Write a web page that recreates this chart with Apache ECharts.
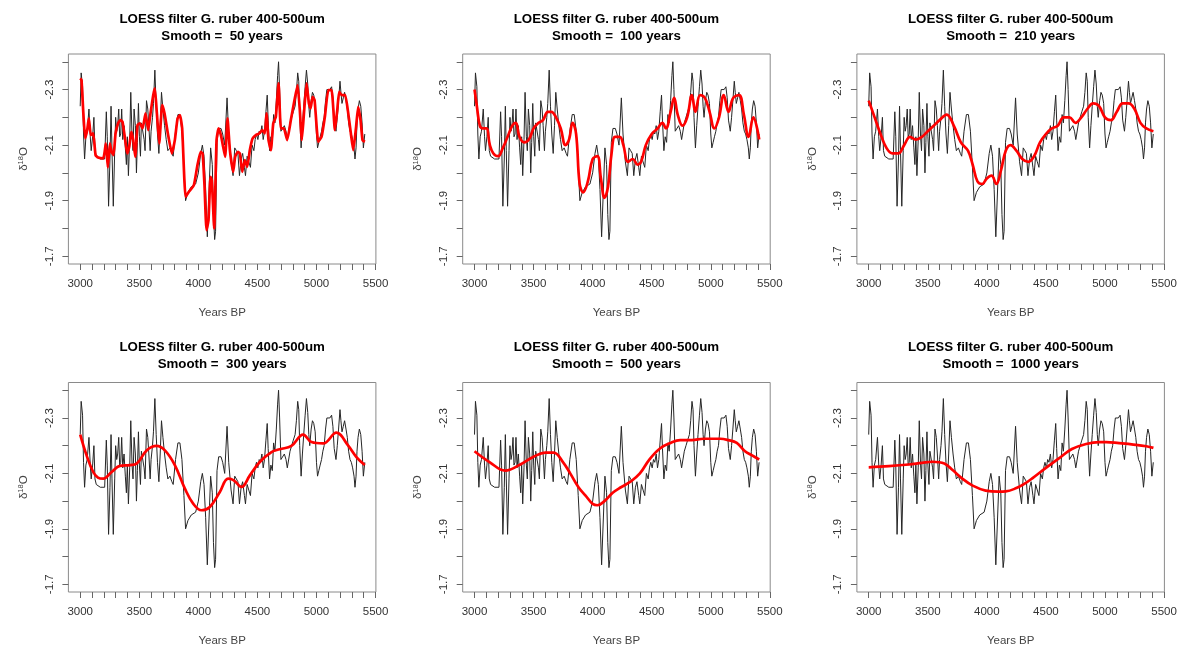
<!DOCTYPE html>
<html>
<head>
<meta charset="utf-8">
<script src="https://cdn.jsdelivr.net/npm/echarts/dist/echarts.min.js"></script>
<style>
html,body{margin:0;padding:0;background:#fff;}
#chart{width:1180px;height:648px;}
</style>
</head>
<body>
<div id="chart"></div>
<script>
// ---- data ----
const titleLine1 = 'LOESS filter G. ruber 400-500um';
const smoothLabels = ['Smooth =  50 years','Smooth =  100 years','Smooth =  210 years','Smooth =  300 years','Smooth =  500 years','Smooth =  1000 years'];
const xTickValues = [3000,3100,3200,3300,3400,3500,3600,3700,3800,3900,4000,4100,4200,4300,4400,4500,4600,4700,4800,4900,5000,5100,5200,5300,5400,5500];
const xLabelValues = [3000,3500,4000,4500,5000,5500];
const yTickValues = [-2.4,-2.3,-2.2,-2.1,-2.0,-1.9,-1.8,-1.7];
const yLabelValues = [-2.3,-2.1,-1.9,-1.7];

// raw G. ruber d18O record: [years BP, d18O]
const rawRecord = [
[3000,-2.24],[3008,-2.36],[3020,-2.31],[3028,-2.14],[3037,-2.05],[3048,-2.13],[3059,-2.15],[3074,-2.23],[3085,-2.13],[3093,-2.08],
[3105,-2.13],[3116,-2.20],[3125,-2.08],[3136,-2.06],[3170,-2.05],[3207,-2.05],[3221,-2.22],[3229,-2.13],[3240,-1.88],[3252,-2.05],
[3261,-2.24],[3269,-2.08],[3280,-1.88],[3292,-2.08],[3300,-2.20],[3309,-2.15],[3317,-2.17],[3326,-2.23],[3334,-2.13],[3343,-2.14],
[3351,-2.23],[3360,-2.12],[3371,-2.17],[3382,-2.09],[3391,-2.03],[3399,-2.13],[3408,-1.99],[3419,-2.12],[3428,-2.29],[3439,-2.13],
[3447,-2.08],[3456,-2.23],[3467,-2.17],[3476,-2.00],[3484,-2.11],[3493,-2.25],[3501,-2.13],[3510,-2.06],[3518,-2.18],[3530,-2.18],
[3541,-2.12],[3549,-2.08],[3561,-2.26],[3572,-2.23],[3581,-2.17],[3592,-2.08],[3600,-2.15],[3612,-2.20],[3620,-2.25],[3632,-2.37],
[3643,-2.24],[3654,-2.14],[3666,-2.07],[3677,-2.17],[3688,-2.29],[3700,-2.23],[3714,-2.17],[3728,-2.12],[3742,-2.08],[3759,-2.09],
[3776,-2.07],[3787,-2.06],[3807,-2.15],[3827,-2.21],[3844,-2.21],[3861,-2.15],[3878,-2.02],[3892,-1.90],[3912,-1.93],[3940,-1.95],
[3977,-1.96],[4000,-2.00],[4020,-2.07],[4034,-2.10],[4048,-2.06],[4062,-1.94],[4076,-1.77],[4090,-1.765],[4104,-2.09],[4118,-2.03],
[4128,-1.85],[4138,-1.76],[4146,-1.79],[4158,-2.11],[4172,-2.16],[4192,-2.16],[4206,-2.14],[4223,-2.10],[4243,-2.27],[4257,-2.14],
[4277,-2.04],[4294,-1.99],[4308,-2.09],[4322,-2.08],[4335,-2.07],[4348,-1.99],[4362,-2.05],[4375,-2.07],[4390,-2.02],[4399,-1.99],
[4413,-2.06],[4427,-2.04],[4441,-2.02],[4455,-2.10],[4470,-2.08],[4481,-2.12],[4492,-2.14],[4504,-2.12],[4515,-2.15],[4526,-2.14],
[4538,-2.17],[4549,-2.12],[4560,-2.15],[4572,-2.22],[4583,-2.28],[4591,-2.19],[4603,-2.08],[4614,-2.13],[4626,-2.11],[4637,-2.21],
[4648,-2.18],[4660,-2.26],[4671,-2.35],[4679,-2.40],[4688,-2.30],[4699,-2.15],[4714,-2.15],[4728,-2.17],[4742,-2.15],[4753,-2.12],
[4765,-2.12],[4776,-2.18],[4790,-2.20],[4804,-2.22],[4819,-2.24],[4830,-2.29],[4841,-2.36],[4850,-2.33],[4858,-2.20],[4870,-2.09],
[4881,-2.17],[4892,-2.24],[4904,-2.31],[4915,-2.37],[4926,-2.32],[4935,-2.24],[4943,-2.20],[4955,-2.26],[4966,-2.29],[4977,-2.28],
[4989,-2.25],[5000,-2.14],[5009,-2.09],[5020,-2.11],[5031,-2.13],[5043,-2.15],[5054,-2.18],[5065,-2.20],[5077,-2.26],[5088,-2.30],
[5099,-2.30],[5113,-2.30],[5128,-2.31],[5139,-2.27],[5150,-2.19],[5165,-2.15],[5176,-2.20],[5187,-2.26],[5199,-2.33],[5207,-2.29],
[5216,-2.25],[5227,-2.27],[5238,-2.29],[5250,-2.26],[5261,-2.23],[5272,-2.18],[5284,-2.15],[5295,-2.14],[5306,-2.12],[5318,-2.09],
[5326,-2.05],[5335,-2.09],[5343,-2.18],[5352,-2.23],[5363,-2.26],[5375,-2.24],[5386,-2.18],[5397,-2.09],[5409,-2.14]
];

// LOESS curves
const loess50 = [
[3000,-2.34],[3011,-2.334],[3025,-2.226],[3042,-2.124],[3059,-2.154],[3073,-2.196],[3090,-2.136],[3110,-2.142],[3130,-2.064],[3152,-2.055],
[3195,-2.052],[3217,-2.106],[3234,-2.02],[3251,-2.106],[3265,-2.076],[3282,-2.064],[3299,-2.142],[3322,-2.18],[3341,-2.19],[3358,-2.184],
[3381,-2.118],[3398,-2.07],[3415,-2.094],[3432,-2.148],[3449,-2.118],[3466,-2.058],[3485,-2.172],[3505,-2.178],[3528,-2.16],[3553,-2.214],
[3576,-2.154],[3595,-2.214],[3618,-2.28],[3632,-2.304],[3649,-2.214],[3669,-2.106],[3694,-2.244],[3714,-2.214],[3742,-2.142],[3776,-2.07],
[3801,-2.118],[3824,-2.196],[3844,-2.208],[3863,-2.16],[3892,-1.914],[3920,-1.932],[3962,-1.956],[3990,-2.022],[4019,-2.076],[4036,-2.07],
[4052,-1.956],[4069,-1.794],[4086,-1.83],[4103,-1.986],[4114,-1.974],[4134,-1.80],[4154,-2.118],[4171,-2.16],[4191,-2.136],[4210,-2.094],
[4227,-2.058],[4247,-2.196],[4267,-2.082],[4295,-2.004],[4312,-2.058],[4335,-2.076],[4352,-2.07],[4371,-2.004],[4394,-2.046],[4414,-2.022],
[4436,-2.082],[4459,-2.124],[4487,-2.136],[4515,-2.142],[4541,-2.154],[4563,-2.142],[4577,-2.214],[4594,-2.118],[4614,-2.082],[4634,-2.178],
[4656,-2.202],[4679,-2.322],[4699,-2.16],[4724,-2.16],[4752,-2.118],[4783,-2.19],[4814,-2.262],[4840,-2.316],[4859,-2.226],[4876,-2.118],
[4896,-2.226],[4916,-2.322],[4936,-2.25],[4950,-2.232],[4967,-2.274],[4984,-2.262],[5015,-2.112],[5043,-2.13],[5071,-2.202],[5100,-2.298],
[5128,-2.298],[5156,-2.154],[5176,-2.226],[5192,-2.292],[5215,-2.28],[5243,-2.28],[5269,-2.214],[5291,-2.142],[5311,-2.082],[5334,-2.16],
[5353,-2.238],[5373,-2.19],[5390,-2.118],[5410,-2.112]
];
const loess100 = [
[3000,-2.30],[3020,-2.24],[3045,-2.17],[3070,-2.16],[3100,-2.16],[3130,-2.10],[3160,-2.07],[3200,-2.06],[3240,-2.09],[3280,-2.13],
[3320,-2.17],[3350,-2.18],[3380,-2.13],[3420,-2.11],[3460,-2.12],[3500,-2.16],[3540,-2.18],[3580,-2.19],[3620,-2.22],[3650,-2.22],
[3690,-2.20],[3730,-2.16],[3770,-2.10],[3800,-2.12],[3830,-2.18],[3860,-2.14],[3890,-1.96],[3920,-1.93],[3960,-1.97],[4000,-2.05],
[4040,-2.06],[4070,-1.98],[4100,-1.91],[4130,-1.95],[4160,-2.07],[4190,-2.13],[4230,-2.13],[4260,-2.10],[4300,-2.04],[4340,-2.05],
[4380,-2.03],[4410,-2.04],[4450,-2.10],[4500,-2.14],[4550,-2.16],[4590,-2.18],[4620,-2.16],[4660,-2.22],[4690,-2.27],[4720,-2.21],
[4760,-2.17],[4800,-2.20],[4840,-2.28],[4870,-2.22],[4910,-2.28],[4950,-2.27],[4990,-2.22],[5030,-2.16],[5070,-2.20],[5110,-2.28],
[5150,-2.22],[5190,-2.27],[5240,-2.28],[5280,-2.21],[5320,-2.13],[5360,-2.20],[5410,-2.12]
];
const loess210 = [
[3000,-2.26],[3050,-2.20],[3100,-2.14],[3150,-2.09],[3200,-2.07],[3250,-2.07],[3300,-2.10],[3350,-2.13],[3400,-2.12],[3450,-2.13],
[3500,-2.15],[3550,-2.17],[3600,-2.19],[3660,-2.21],[3720,-2.17],[3780,-2.11],[3840,-2.08],[3880,-2.03],[3920,-1.97],[3960,-1.96],
[4000,-1.98],[4040,-1.99],[4080,-1.96],[4120,-2.01],[4160,-2.08],[4200,-2.10],[4250,-2.08],[4300,-2.05],[4350,-2.04],[4400,-2.06],
[4450,-2.11],[4500,-2.14],[4550,-2.16],[4600,-2.17],[4650,-2.20],[4700,-2.20],[4750,-2.18],[4800,-2.20],[4850,-2.23],[4900,-2.25],
[4950,-2.24],[5000,-2.20],[5050,-2.19],[5100,-2.22],[5150,-2.25],[5200,-2.25],[5250,-2.23],[5300,-2.18],[5350,-2.16],[5410,-2.15]
];
const loess300 = [
[3000,-2.24],[3054,-2.165],[3110,-2.105],[3150,-2.085],[3195,-2.081],[3266,-2.105],[3336,-2.127],[3420,-2.13],[3477,-2.135],[3562,-2.183],
[3646,-2.199],[3717,-2.183],[3801,-2.13],[3886,-2.045],[3956,-1.991],[4027,-1.967],[4097,-1.979],[4182,-2.033],[4252,-2.081],[4300,-2.075],
[4365,-2.051],[4436,-2.093],[4520,-2.141],[4619,-2.177],[4689,-2.187],[4788,-2.199],[4887,-2.24],[4958,-2.213],[5056,-2.208],[5169,-2.247],
[5267,-2.201],[5338,-2.159],[5409,-2.13]
];
const loess500 = [
[3000,-2.18],[3130,-2.14],[3260,-2.11],[3380,-2.13],[3500,-2.16],[3600,-2.175],[3670,-2.175],[3750,-2.14],[3810,-2.10],[3880,-2.05],
[3940,-2.02],[4000,-1.99],[4040,-1.985],[4100,-2.00],[4170,-2.03],[4240,-2.05],[4320,-2.07],[4400,-2.10],[4480,-2.15],[4570,-2.19],
[4660,-2.21],[4740,-2.22],[4840,-2.22],[4940,-2.225],[5080,-2.225],[5150,-2.22],[5220,-2.21],[5290,-2.18],[5350,-2.165],[5410,-2.15]
];
const loess1000 = [
[3000,-2.122],[3170,-2.126],[3340,-2.132],[3450,-2.138],[3540,-2.142],[3640,-2.136],[3710,-2.112],[3790,-2.082],[3880,-2.056],[3990,-2.038],
[4100,-2.034],[4160,-2.035],[4250,-2.047],[4320,-2.063],[4390,-2.084],[4500,-2.12],[4610,-2.154],[4720,-2.188],[4840,-2.206],[4950,-2.213],
[5010,-2.213],[5120,-2.209],[5240,-2.204],[5350,-2.198],[5410,-2.192]
];
const loessCurves = [loess50, loess100, loess210, loess300, loess500, loess1000];

// ---- layout ----
const colLeft = [68.4, 462.7, 856.9];
const rowTop = [54, 382.5];
const plotW = 307.5, plotH = 210;
const FONT = '"Liberation Sans", Arial, sans-serif';

const grids = [], xAxes = [], yAxes = [], series = [], graphics = [];
for (let i = 0; i < 6; i++) {
  const c = i % 3, r = Math.floor(i / 3);
  grids.push({left: colLeft[c], top: rowTop[r], width: plotW, height: plotH,
    show: true, borderColor: '#8a8a8a', borderWidth: 1, backgroundColor: 'transparent', containLabel: false});
  xAxes.push({
    gridIndex: i, type: 'value', min: 2900, max: 5503,
    axisLine: {show: false, onZero: false},
    splitLine: {show: false},
    axisTick: {show: true, customValues: xTickValues, length: 6, lineStyle: {color: '#666', width: 1}},
    axisLabel: {customValues: xLabelValues, margin: 14, fontSize: 11.5, color: '#333', fontFamily: FONT,
      formatter: v => String(Math.round(v))},
    name: 'Years BP', nameLocation: 'middle', nameGap: 43,
    nameTextStyle: {fontSize: 11.5, color: '#444', fontFamily: FONT}
  });
  yAxes.push({
    gridIndex: i, type: 'value', inverse: true, min: -2.428, max: -1.672,
    axisLine: {show: false, onZero: false},
    splitLine: {show: false},
    axisTick: {show: true, customValues: yTickValues, length: 6, lineStyle: {color: '#666', width: 1}},
    axisLabel: {customValues: yLabelValues, rotate: 90, margin: 13, fontSize: 11.5, color: '#333', fontFamily: FONT,
      formatter: v => v.toFixed(1)},
    name: 'δ{s|18}O', nameLocation: 'middle', nameGap: 38, nameRotate: 90,
    nameTextStyle: {fontSize: 11.5, color: '#444', fontFamily: FONT,
      rich: {s: {fontSize: 7.5, color: '#444', fontFamily: FONT, verticalAlign: 'top', padding: [0, 0, 5, 0]}}}
  });
  series.push({type: 'line', xAxisIndex: i, yAxisIndex: i, data: rawRecord, showSymbol: false, silent: true,
    lineStyle: {color: '#262626', width: 1}, z: 2});
  series.push({type: 'line', xAxisIndex: i, yAxisIndex: i, data: loessCurves[i], showSymbol: false, silent: true,
    smooth: i === 0 ? 0.15 : 0.4, lineStyle: {color: '#ff0000', width: 2.7}, z: 3});
  const cx = colLeft[c] + plotW / 2;
  graphics.push({type: 'text', x: cx, y: rowTop[r] - 35, style: {text: titleLine1, textAlign: 'center', textVerticalAlign: 'middle',
    font: 'bold 13.3px ' + FONT, fill: '#000'}});
  graphics.push({type: 'text', x: cx, y: rowTop[r] - 18, style: {text: smoothLabels[i], textAlign: 'center', textVerticalAlign: 'middle',
    font: 'bold 13.3px ' + FONT, fill: '#000'}});
}

const chart = echarts.init(document.getElementById('chart'), null, {renderer: 'canvas'});
chart.setOption({
  animation: false,
  backgroundColor: '#fff',
  grid: grids, xAxis: xAxes, yAxis: yAxes, series: series, graphic: graphics
});
</script>
</body>
</html>
